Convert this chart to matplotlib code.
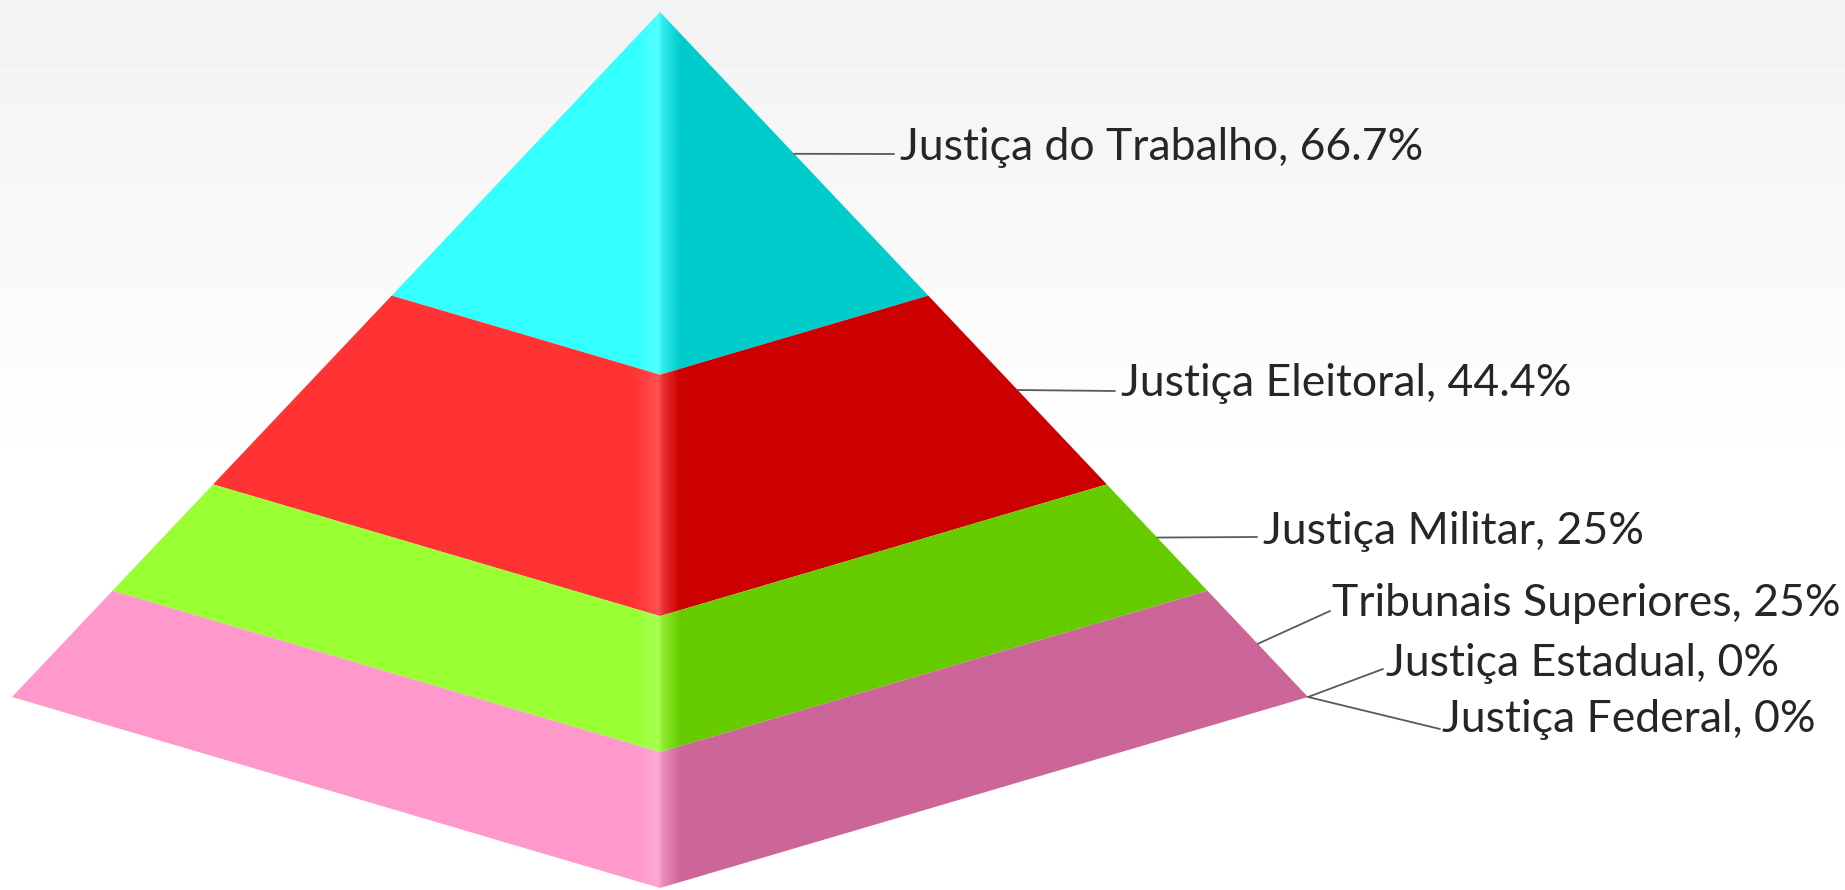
import numpy as np
from matplotlib import pyplot as plt
from matplotlib.colors import to_rgb
from matplotlib.patches import Polygon

# series, top of the pyramid first
labels = ['Justiça do Trabalho', 'Justiça Eleitoral', 'Justiça Militar',
          'Tribunais Superiores', 'Justiça Estadual', 'Justiça Federal']
value_text = ['66.7%', '44.4%', '25%', '25%', '0%', '0%']
values = [66.7, 44.4, 25, 25, 0, 0]

left_colors = ['#33FFFF', '#FF3333', '#99FF33', '#FF99CC']
right_colors = ['#00CCCC', '#CC0000', '#66CC00', '#CC6699']

# where the labels sit, in pixels
label_x = [900, 1121, 1263, 1332, 1386, 1442]
label_y = [147, 384, 531, 603, 663, 720]
elbow_x = [894, 1115, 1257, 1330, 1383, 1440]
elbow_y = [154, 391, 537, 611, 669, 729]

# pyramid outline in pixels
cx = 660
half_w = 648
top_y = 12
edge_h = 685
centre_h = 876

W, H = 1845, 890

fig = plt.figure(figsize=(W / 100, H / 100), dpi=100)
ax = fig.add_axes([0, 0, 1, 1])

# light grey fading to white behind the chart
bg = np.interp(np.arange(H), [0, 480, H], [0.95, 1.0, 1.0]).reshape(-1, 1)
ax.imshow(bg, cmap='gray', vmin=0, vmax=1, extent=(0, W, H, 0), aspect='auto')

fracs = np.cumsum(values) / np.sum(values)
starts = np.concatenate([[0], fracs[:-1]])


def shade(left, right):
    # flat faces with a soft highlight along the front edge
    xs = np.arange(cx - half_w, cx + half_w + 1)
    left = np.array(to_rgb(left))
    right = np.array(to_rgb(right))
    light = left + (1 - left) * 0.15
    stops = [cx - half_w, cx - 25, cx - 2, cx + 3, cx + 20, cx + half_w]
    img = np.zeros((1, len(xs), 3))
    for c in range(3):
        img[0, :, c] = np.interp(xs, stops, [left[c], left[c], light[c],
                                             light[c] * 0.6 + right[c] * 0.4,
                                             right[c], right[c]])
    return img


for i in range(len(left_colors)):
    t0, t1 = starts[i], fracs[i]
    band = [(cx, top_y + centre_h * t0),
            (cx + half_w * t0, top_y + edge_h * t0),
            (cx + half_w * t1, top_y + edge_h * t1),
            (cx, top_y + centre_h * t1),
            (cx - half_w * t1, top_y + edge_h * t1),
            (cx - half_w * t0, top_y + edge_h * t0)]
    im = ax.imshow(shade(left_colors[i], right_colors[i]), aspect='auto',
                   extent=(cx - half_w, cx + half_w, H, 0),
                   interpolation='bilinear', zorder=2)
    poly = Polygon(band, closed=True, transform=ax.transData, facecolor='none',
                   edgecolor='none')
    ax.add_patch(poly)
    im.set_clip_path(poly)

# leader lines start halfway down each band on the right edge
for i in range(len(labels)):
    t = (starts[i] + fracs[i]) / 2
    ax.plot([cx + half_w * t, elbow_x[i]], [top_y + edge_h * t, elbow_y[i]],
            color='#5a5a5a', lw=1.3, zorder=3, solid_capstyle='round')
    ax.text(label_x[i], label_y[i], labels[i] + ', ' + value_text[i],
            family='Lato', fontsize=32, color='#262626', va='center', ha='left',
            zorder=4)

ax.set_xlim(0, W)
ax.set_ylim(H, 0)
ax.axis('off')

fig.savefig('out.png', dpi=100)
